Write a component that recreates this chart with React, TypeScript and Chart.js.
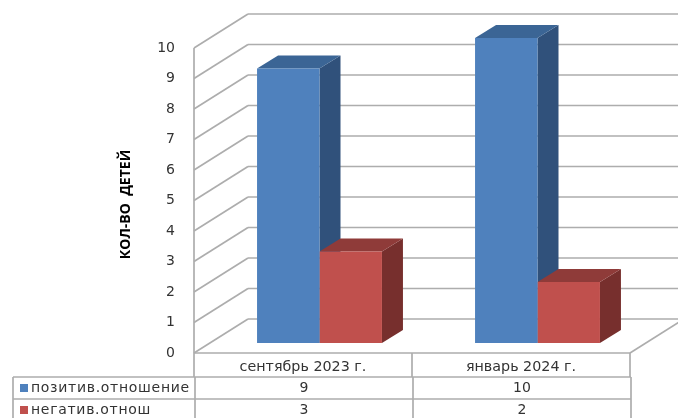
import React, { useEffect, useRef } from "react";
import { Chart, registerables } from "chart.js";

Chart.register(...registerables);

const categories = ["сентябрь 2023 г.", "январь 2024 г."];
const positiveLabel = "позитив.отношение";
const negativeLabel = "негатив.отнош";
const positiveValues = [9, 10];
const negativeValues = [3, 2];
const yTitle = "КОЛ-ВО  ДЕТЕЙ";

const WALL = { dx: 54, dy: -34 };
const BAR_SHIFT = { dx: 16.5, dy: -10 };
const BAR_DEPTH = { dx: 21, dy: -13 };
const GRID = "#adadad";
const TEXT = "#333333";
const FACES = [
  { top: "#3b6595", side: "#30517b" },
  { top: "#8f3b39", side: "#772f2d" },
];
const SWATCH = ["#4f81bd", "#c0504d"];
const FONT_TABLE = '14px "DejaVu Sans"';
const FONT_VALUE = '14px "DejaVu Sans"';

const poly = (ctx: CanvasRenderingContext2D, pts: number[][], fill: string) => {
  ctx.beginPath();
  pts.forEach(([x, y], i) => (i ? ctx.lineTo(x, y) : ctx.moveTo(x, y)));
  ctx.closePath();
  ctx.fillStyle = fill;
  ctx.fill();
};

const line = (ctx: CanvasRenderingContext2D, x1: number, y1: number, x2: number, y2: number) => {
  ctx.beginPath();
  ctx.moveTo(x1, y1);
  ctx.lineTo(x2, y2);
  ctx.stroke();
};

const scene3d = {
  id: "scene3d",
  beforeDatasetsDraw(chart: any) {
    const { ctx, chartArea, scales } = chart;
    const y = scales.y;
    ctx.save();
    ctx.strokeStyle = GRID;
    ctx.lineWidth = 1.7;
    y.ticks.forEach((t: any) => {
      const py = y.getPixelForValue(t.value);
      line(ctx, chartArea.left, py, chartArea.left + WALL.dx, py + WALL.dy);
      line(ctx, chartArea.left + WALL.dx, py + WALL.dy, chart.width, py + WALL.dy);
    });
    const y0 = y.getPixelForValue(0);
    line(ctx, chartArea.left, y.getPixelForValue(10), chartArea.left, y0);
    line(ctx, chartArea.right, y0, chartArea.right + WALL.dx, y0 + WALL.dy);
    ctx.translate(BAR_SHIFT.dx, BAR_SHIFT.dy);
    categories.forEach((_, ci) => {
      [0, 1].forEach((di) => {
        const b = chart.getDatasetMeta(di).data[ci];
        const l = b.x - b.width / 2;
        const r = b.x + b.width / 2;
        poly(ctx, [[r, b.y], [r + BAR_DEPTH.dx, b.y + BAR_DEPTH.dy], [r + BAR_DEPTH.dx, b.base + BAR_DEPTH.dy], [r, b.base]], FACES[di].side);
        poly(ctx, [[l, b.y], [l + BAR_DEPTH.dx, b.y + BAR_DEPTH.dy], [r + BAR_DEPTH.dx, b.y + BAR_DEPTH.dy], [r, b.y]], FACES[di].top);
      });
    });
    ctx.restore();
    ctx.save();
    ctx.translate(BAR_SHIFT.dx, BAR_SHIFT.dy);
  },
  afterDatasetsDraw(chart: any) {
    const { ctx, chartArea, scales } = chart;
    ctx.restore();
    const x = scales.x;
    const top = chartArea.bottom;
    const rowTops = [top + 24, top + 46];
    const tableLeft = 13;
    const bottom = chart.height + 4;
    const edges = [chartArea.left, x.getPixelForValue(0) + (x.getPixelForValue(1) - x.getPixelForValue(0)) / 2, chartArea.right];
    ctx.save();
    ctx.strokeStyle = GRID;
    ctx.lineWidth = 1.7;
    line(ctx, chartArea.left, top, chartArea.right, top);
    edges.forEach((e) => line(ctx, e, top, e, rowTops[0]));
    rowTops.forEach((r) => line(ctx, tableLeft, r, chartArea.right + 1, r));
    [tableLeft, ...edges.map((e) => e + 1)].forEach((e) => line(ctx, e, rowTops[0], e, bottom));
    ctx.textBaseline = "middle";
    const series = [
      { label: positiveLabel, values: positiveValues },
      { label: negativeLabel, values: negativeValues },
    ];
    series.forEach((s, i) => {
      const cy = rowTops[i] + 11;
      ctx.fillStyle = SWATCH[i];
      ctx.fillRect(tableLeft + 7, cy - 4, 8, 8);
      ctx.fillStyle = TEXT;
      ctx.font = FONT_TABLE;
      ctx.textAlign = "left";
      ctx.letterSpacing = "0.7px";
      ctx.fillText(s.label, tableLeft + 18, cy);
      ctx.letterSpacing = "0px";
      ctx.font = FONT_VALUE;
      ctx.textAlign = "center";
      s.values.forEach((v, ci) => ctx.fillText(String(v), x.getPixelForValue(ci) + 1, cy));
    });
    ctx.translate(126, (chartArea.top + chartArea.bottom) / 2 + 4);
    ctx.rotate(-Math.PI / 2);
    ctx.fillStyle = "#000";
    ctx.font = 'bold 14px "Open Sans"';
    ctx.textAlign = "center";
    ctx.fillText(yTitle, 0, 0);
    ctx.restore();
  },
};

export default function App() {
  const ref = useRef<HTMLCanvasElement>(null);
  useEffect(() => {
    const chart = new Chart(ref.current!, {
      type: "bar",
      data: {
        labels: categories,
        datasets: [
          { label: positiveLabel, data: positiveValues, backgroundColor: SWATCH[0] },
          { label: negativeLabel, data: negativeValues, backgroundColor: SWATCH[1] },
        ],
      },
      plugins: [scene3d],
      options: {
        animation: false,
        responsive: false,
        layout: { padding: { left: 116, top: 48, right: 48, bottom: 40 } },
        plugins: { legend: { display: false }, tooltip: { enabled: false } },
        datasets: { bar: { barPercentage: 1, categoryPercentage: 0.573 } },
        scales: {
          x: {
            grid: { display: false },
            border: { display: false },
            ticks: { color: TEXT, font: { family: "DejaVu Sans", size: 14.3 }, padding: -2, maxRotation: 0 },
            afterFit: (s: any) => { s.height = 25; },
          },
          y: {
            min: 0,
            max: 10,
            grid: { display: false },
            border: { display: false },
            ticks: { stepSize: 1, color: TEXT, font: { family: "DejaVu Sans", size: 14 }, padding: 11 },
            afterFit: (s: any) => { s.width = 78; },
          },
        },
      } as any,
    });
    return () => chart.destroy();
  }, []);
  return (
    <div style={{ position: "fixed", left: 0, top: 0, width: 678, height: 418, background: "#fff" }}>
      <canvas ref={ref} width={678} height={418} style={{ display: "block", width: 678, height: 418, filter: "blur(0.5px)" }} />
    </div>
  );
}
